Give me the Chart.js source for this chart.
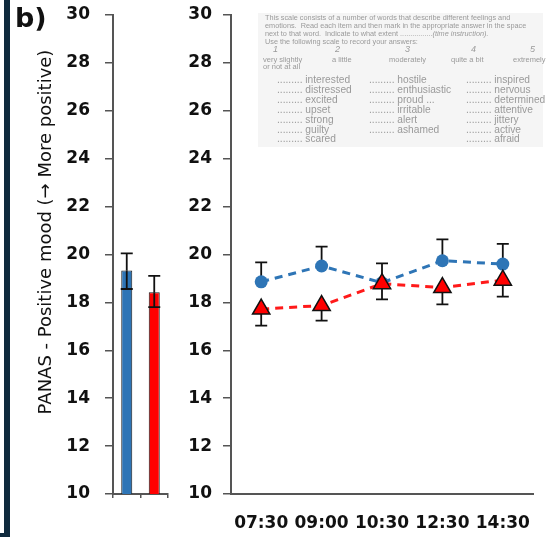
<!DOCTYPE html>
<html>
<head>
<meta charset="utf-8">
<script src="https://cdn.jsdelivr.net/npm/chart.js@4.4.1/dist/chart.umd.min.js"></script>
<style>
  html, body { margin: 0; padding: 0; background: #fff; }
  #wrap { position: relative; width: 551px; height: 539px; overflow: hidden; font-family: "DejaVu Sans", sans-serif; }
  canvas { position: absolute; top: 0; }
  #barChart { left: 0; }
  #lineChart { left: 175px; }
  .frameV { position: absolute; left: 4px; top: 0; width: 6px; height: 537px; background: #0f2a3d; }
  .frameH { position: absolute; left: 0; top: 533px; width: 10px; height: 4px; background: #0f2a3d; }
  .panel { position: absolute; left: 15px; top: 2px; font: bold 27px "DejaVu Sans", sans-serif; color: #111; }
  .ytitle { position: absolute; left: 44px; top: 232px; transform: translate(-50%, -50%) rotate(-90deg);
            white-space: nowrap; font: 18px "DejaVu Sans", sans-serif; color: #111; }
  /* PANAS questionnaire inset */
  .inset { position: absolute; left: 258px; top: 13px; width: 285px; height: 134px; background: #f5f5f5; }
  .inset div { position: absolute; white-space: nowrap; color: #9a9a9a; font-family: "Liberation Sans", Arial, sans-serif; }
  .hdr { font-size: 7.3px; line-height: 8px; left: 7px; }
  .num { font: italic 9px "Liberation Serif", serif; top: 31px; }
  .lab { font-size: 7.5px; top: 42px; }
  .word { font-size: 10.2px; line-height: 9.9px; }
</style>
</head>
<body>
<div id="wrap">
  <canvas id="barChart" width="180" height="539"></canvas>
  <canvas id="lineChart" width="376" height="539"></canvas>
  <div class="frameV"></div>
  <div class="frameH"></div>
  <div class="panel">b)</div>
  <div class="ytitle">PANAS - Positive mood (→ More positive)</div>

  <div class="inset">
    <div class="hdr" style="top:1px">This scale consists of a number of words that describe different feelings and</div>
    <div class="hdr" style="top:9px">emotions.&nbsp; Read each item and then mark in the appropriate answer in the space</div>
    <div class="hdr" style="top:17px">next to that word.&nbsp; Indicate to what extent ................<i>(time instruction).</i></div>
    <div class="hdr" style="top:25px">Use the following scale to record your answers:</div>
    <div class="num" style="left:15px">1</div>
    <div class="num" style="left:77px">2</div>
    <div class="num" style="left:147px">3</div>
    <div class="num" style="left:213px">4</div>
    <div class="num" style="left:272px">5</div>
    <div class="lab" style="left:5px">very slightly</div>
    <div class="lab" style="left:74px">a little</div>
    <div class="lab" style="left:131px">moderately</div>
    <div class="lab" style="left:193px">quite a bit</div>
    <div class="lab" style="left:255px">extremely</div>
    <div class="lab" style="left:5px;top:49px">or not at all</div>

    <div class="word" style="left:19px;top:62px">......... interested<br>......... distressed<br>......... excited<br>......... upset<br>......... strong<br>......... guilty<br>......... scared</div>
    <div class="word" style="left:111px;top:62px">......... hostile<br>......... enthusiastic<br>......... proud ...<br>......... irritable<br>......... alert<br>......... ashamed</div>
    <div class="word" style="left:208px;top:62px">......... inspired<br>......... nervous<br>......... determined<br>......... attentive<br>......... jittery<br>......... active<br>......... afraid</div>
  </div>
</div>

<script>
// Left panel: overall means per group
const barGroups = ['Blue group', 'Red group'];
const barMean = [19.33, 18.42];
const barLower = [18.56, 17.80];
const barUpper = [20.05, 19.11];
const barColors = ['#2e75b6', '#ff0000'];

// Right panel: time course
const times = ['07:30', '09:00', '10:30', '12:30', '14:30'];
const blueMean = [18.86, 19.52, 18.82, 19.74, 19.60];
const blueUpper = [19.67, 20.33, 19.63, 20.63, 20.44];
const redMean = [17.72, 17.87, 18.78, 18.62, 18.93];
const redLower = [17.03, 17.24, 18.13, 17.92, 18.24];

const yMin = 10, yMax = 30, yStep = 2;

const axisColor = '#555';
const tickFont = { family: 'DejaVu Sans', weight: 'bold', size: 17 };

// draws error bars from the dataset's errLo / errHi arrays
const errorBars = {
  id: 'errorBars',
  beforeDatasetsDraw(chart, args, opts) { if (opts.under) drawErr(chart); },
  afterDatasetsDraw(chart, args, opts) { if (!opts.under) drawErr(chart); }
};

function drawErr(chart) {
  const ctx = chart.ctx;
  const y = chart.scales.y;
  ctx.save();
  ctx.strokeStyle = '#111';
  ctx.lineWidth = 1.8;
  chart.data.datasets.forEach((ds, di) => {
    const meta = chart.getDatasetMeta(di);
    meta.data.forEach((el, i) => {
      const x = el.x;
      const ym = y.getPixelForValue(ds.data[i]);
      [ds.errHi, ds.errLo].forEach(arr => {
        if (!arr) return;
        const ye = y.getPixelForValue(arr[i]);
        ctx.beginPath();
        ctx.moveTo(x, ym); ctx.lineTo(x, ye);
        ctx.moveTo(x - 6, ye); ctx.lineTo(x + 6, ye);
        ctx.stroke();
      });
    });
  });
  ctx.restore();
}

// fixed axis sizes so both panels line up with the figure
function noOverflow(s) {
  s.paddingTop = 0; s.paddingBottom = 0; s.paddingLeft = 0; s.paddingRight = 0;
}

function yAxis(width, pad) {
  return {
    min: yMin, max: yMax,
    ticks: { stepSize: yStep, color: '#111', font: tickFont, padding: pad },
    grid: { drawOnChartArea: false, tickLength: 8, color: axisColor, lineWidth: 1.5 },
    border: { color: axisColor, width: 2 },
    afterFit(s) { s.width = width; noOverflow(s); }
  };
}

new Chart(document.getElementById('barChart'), {
  type: 'bar',
  data: {
    labels: barGroups,
    datasets: [{
      data: barMean,
      backgroundColor: barColors,
      borderColor: '#1a1a1a',
      borderWidth: 1,
      barPercentage: 0.4,
      categoryPercentage: 1,
      errLo: barLower,
      errHi: barUpper
    }]
  },
  options: {
    responsive: false,
    animation: false,
    events: [],
    layout: { padding: { top: 15, right: 12, bottom: 0, left: 0 } },
    plugins: { legend: { display: false }, tooltip: { enabled: false }, errorBars: { under: false } },
    scales: {
      x: {
        ticks: { display: false },
        grid: { drawOnChartArea: false, tickLength: 4, color: axisColor, lineWidth: 1.5 },
        border: { color: axisColor, width: 2 },
        afterFit(s) { s.height = 45; noOverflow(s); }
      },
      y: yAxis(113, 15)
    }
  },
  plugins: [errorBars]
});

new Chart(document.getElementById('lineChart'), {
  type: 'line',
  data: {
    labels: times,
    datasets: [
      {
        data: redMean,
        borderColor: '#ff1a1a',
        borderWidth: 3,
        borderDash: [8, 6],
        pointStyle: 'triangle',
        pointRadius: 10,
        pointBackgroundColor: '#ff0000',
        pointBorderColor: '#111',
        pointBorderWidth: 1.5,
        errLo: redLower,
        order: 0
      },
      {
        data: blueMean,
        borderColor: '#2e75b6',
        borderWidth: 3,
        borderDash: [8, 6],
        pointStyle: 'circle',
        pointRadius: 6.5,
        pointBackgroundColor: '#2e75b6',
        pointBorderColor: '#2e75b6',
        pointBorderWidth: 0,
        errHi: blueUpper,
        order: 1
      }
    ]
  },
  options: {
    responsive: false,
    animation: false,
    events: [],
    layout: { padding: { top: 15, right: 18, bottom: 0, left: 0 } },
    plugins: { legend: { display: false }, tooltip: { enabled: false }, errorBars: { under: true } },
    scales: {
      x: {
        offset: true,
        ticks: { color: '#111', font: { family: 'DejaVu Sans', weight: 'bold', size: 17 }, padding: 19, maxRotation: 0, autoSkip: false },
        grid: { drawOnChartArea: false, drawTicks: false },
        border: { color: axisColor, width: 2 },
        afterFit(s) { s.height = 45; noOverflow(s); }
      },
      y: yAxis(56, 11)
    }
  },
  plugins: [errorBars]
});
</script>
</body>
</html>
